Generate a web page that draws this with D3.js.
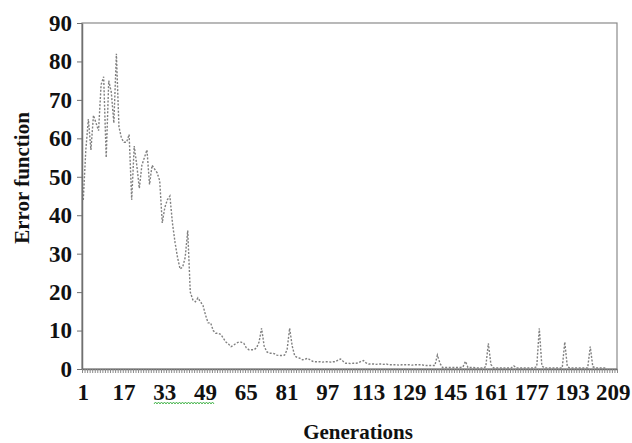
<!DOCTYPE html>
<html><head><meta charset="utf-8">
<script src="https://cdn.jsdelivr.net/npm/d3@7"></script>
<style>body{margin:0;background:#fff}svg{display:block}
.t{font-family:"Liberation Serif","Tinos","DejaVu Serif","Times New Roman",serif;font-weight:bold;fill:#111}</style>
</head><body><svg id="c" width="632" height="443"></svg>
<script>
// Categories: generations 1..210
const generations = d3.range(1, 211);
// Error function values (generation 1 .. 206)
const errorValues = [
  44,57,65,57,66,64,62,74,76,55,
  75,72,64,82,63,60,59,59,61,44,
  58,53,47,53,55,57,48,53,52,51,
  49,38,42,44,45,38,33,29,26,26.5,
  29,36,20,18,17.5,18.5,17.5,16.5,14,12,
  12,10,9.3,9.3,9,8,7,6.5,5.8,6.2,
  6.7,7,7,6.7,5.5,5,5,5,5.5,7,
  10.6,6,4.5,4.1,4.1,4,3.6,3.5,3.5,3.6,
  5,10.6,6,3.4,3,2.8,2.4,2.5,2.8,2.4,
  2,1.9,1.9,1.9,1.8,1.9,1.9,1.8,1.9,1.9,
  2.3,2.6,2,1.5,1.5,1.4,1.5,1.5,1.6,2,
  2.2,1.6,1.3,1.3,1.3,1.2,1.3,1.3,1.2,1.3,
  1.1,1.1,1.1,1.1,1.0,1.1,1.1,1.1,1.1,1.0,
  1.1,1.1,1.1,1.1,0.9,0.9,0.9,0.9,0.9,3.6,
  1.5,0.4,0.4,0.4,0.4,0.4,0.4,0.4,0.4,0.5,
  2.0,0.4,0.4,0.4,0.3,0.3,0.3,0.3,0.6,6.7,
  1.2,0.3,0.3,0.3,0.3,0.3,0.3,0.3,0.3,0.8,
  0.3,0.3,0.3,0.3,0.3,0.3,0.3,0.3,0.6,10.6,
  0.8,0.3,0.3,0.3,0.3,0.3,0.3,0.3,0.3,7,
  0.6,0.3,0.3,0.3,0.3,0.3,0.3,0.3,0.3,5.8,
  0.6,0.3,0.3,0.3,0.3,0.3
];
const xTickLabels = [1,17,33,49,65,81,97,113,129,145,161,177,193,209];
const yTickValues = [0,10,20,30,40,50,60,70,80,90];
const xTitle = "Generations";
const yTitle = "Error function";

const L = 82, R = 617, T = 23, B = 369;
const svg = d3.select("#c");

const x = d3.scaleBand().domain(generations).range([L, R]).padding(0);
const xEdge = d3.scaleLinear().domain([0.5, generations.length + 0.5]).range([L, R]);
const y = d3.scaleLinear().domain([0, 90]).range([B, T]);

// plot frame
svg.append("rect").attr("x", L).attr("y", T).attr("width", R - L).attr("height", B - T)
  .attr("fill", "none").attr("stroke", "#8a8a8a").attr("stroke-width", 1.2);

// series line
const data = errorValues.map((v, i) => ({g: generations[i], v}));
const line = d3.line().x(d => x(d.g) + x.bandwidth() / 2).y(d => y(d.v));
svg.append("path").datum(data).attr("d", line)
  .attr("fill", "none").attr("stroke", "#808080").attr("stroke-width", 1.4)
  .attr("stroke-dasharray", "2,1.6");

// y axis
const ya = svg.append("g").attr("transform", `translate(${L},0)`)
  .call(d3.axisLeft(y).tickValues(yTickValues).tickSize(5).tickSizeOuter(0).tickPadding(5));
ya.select(".domain").attr("stroke", "#707070").attr("stroke-width", 1.5);
ya.selectAll(".tick line").attr("stroke", "#707070");
ya.selectAll("text").attr("class", "t").attr("font-family", null).style("font-size", "23px");

// x axis minor ticks (between categories)
const boundaries = d3.range(0.5, generations.length + 1, 1);
const xm = svg.append("g").attr("transform", `translate(0,${B})`)
  .call(d3.axisBottom(xEdge).tickValues(boundaries).tickSize(4).tickSizeOuter(0).tickFormat(""));
xm.select(".domain").attr("stroke", "#6a6a6a").attr("stroke-width", 1.6);
xm.selectAll(".tick line").attr("stroke", "#8a8a8a");

// x axis labels
const xa = svg.append("g").attr("transform", `translate(0,${B})`)
  .call(d3.axisBottom(x).tickValues(xTickLabels).tickSize(0).tickPadding(15));
xa.select(".domain").remove();
xa.selectAll("text").attr("class", "t").attr("font-family", null).style("font-size", "23px");

// titles
svg.append("text").attr("class", "t").attr("x", 358).attr("y", 439).attr("text-anchor", "middle")
  .style("font-size", "21px").text(xTitle);
svg.append("text").attr("class", "t").attr("transform", "translate(29,178) rotate(-90)")
  .attr("text-anchor", "middle").style("font-size", "21px").text(yTitle);

// spell-check style wavy underline under "33 49"
const wave = [];
for (let px = 154, k = 0; px <= 215; px += 1.5, k++) wave.push([px, 403 + (k % 2 ? -1 : 1)]);
svg.append("path").attr("d", d3.line()(wave)).attr("fill", "none")
  .attr("stroke", "#3cb043").attr("stroke-width", 0.9);
</script>
</body></html>
